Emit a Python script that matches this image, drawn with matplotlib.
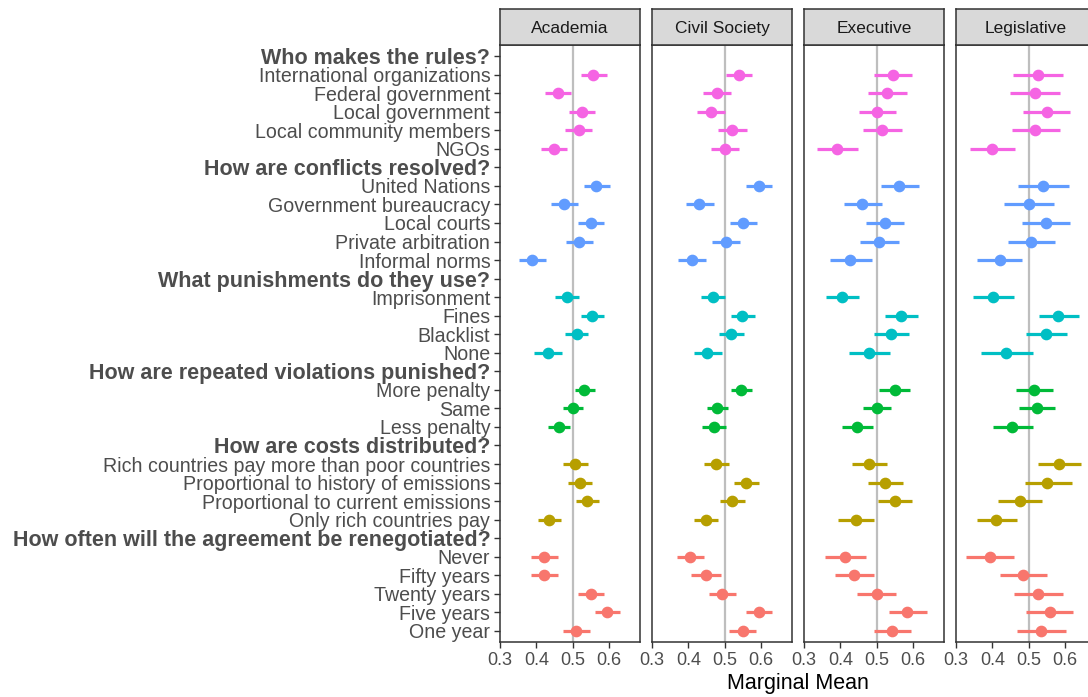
import matplotlib
matplotlib.use("Agg")
import matplotlib.pyplot as plt
import numpy as np

plt.rcParams['font.family'] = ['Liberation Sans', 'DejaVu Sans']

# attribute headers and their levels, top to bottom
headers = [
    "Who makes the rules?",
    "How are conflicts resolved?",
    "What punishments do they use?",
    "How are repeated violations punished?",
    "How are costs distributed?",
    "How often will the agreement be renegotiated?",
]
levels = [
    ["International organizations", "Federal government", "Local government",
     "Local community members", "NGOs"],
    ["United Nations", "Government bureaucracy", "Local courts",
     "Private arbitration", "Informal norms"],
    ["Imprisonment", "Fines", "Blacklist", "None"],
    ["More penalty", "Same", "Less penalty"],
    ["Rich countries pay more than poor countries", "Proportional to history of emissions",
     "Proportional to current emissions", "Only rich countries pay"],
    ["Never", "Fifty years", "Twenty years", "Five years", "One year"],
]
colors = ["#F564E3", "#619CFF", "#00BFC4", "#00BA38", "#B79F00", "#F8766D"]

sectors = ["Academia", "Civil Society", "Executive", "Legislative"]

# marginal means with 95% intervals, one value per level in the order above
academia_est = [0.557, 0.459, 0.525, 0.517, 0.448,
                0.566, 0.477, 0.550, 0.518, 0.389,
                0.484, 0.555, 0.511, 0.431,
                0.532, 0.500, 0.462,
                0.507, 0.520, 0.541, 0.436,
                0.421, 0.421, 0.550, 0.596, 0.510]
academia_lo = [0.522, 0.424, 0.490, 0.480, 0.412,
               0.531, 0.440, 0.514, 0.482, 0.352,
               0.453, 0.523, 0.480, 0.394,
               0.507, 0.473, 0.432,
               0.475, 0.487, 0.509, 0.404,
               0.386, 0.386, 0.515, 0.561, 0.474]
academia_hi = [0.595, 0.495, 0.563, 0.555, 0.485,
               0.603, 0.516, 0.588, 0.556, 0.427,
               0.517, 0.588, 0.544, 0.470,
               0.562, 0.530, 0.494,
               0.544, 0.554, 0.574, 0.469,
               0.459, 0.459, 0.588, 0.632, 0.549]

civil_est = [0.539, 0.478, 0.462, 0.521, 0.500,
             0.594, 0.429, 0.551, 0.503, 0.409,
             0.468, 0.549, 0.518, 0.453,
             0.545, 0.480, 0.471,
             0.476, 0.560, 0.521, 0.449,
             0.405, 0.449, 0.494, 0.595, 0.550]
civil_lo = [0.503, 0.441, 0.425, 0.483, 0.462,
            0.559, 0.394, 0.515, 0.465, 0.372,
            0.435, 0.517, 0.485, 0.416,
            0.517, 0.451, 0.438,
            0.442, 0.526, 0.487, 0.416,
            0.368, 0.408, 0.457, 0.559, 0.512]
civil_hi = [0.577, 0.517, 0.500, 0.561, 0.539,
            0.632, 0.471, 0.590, 0.543, 0.450,
            0.501, 0.583, 0.553, 0.493,
            0.575, 0.509, 0.504,
            0.512, 0.596, 0.556, 0.483,
            0.443, 0.489, 0.532, 0.632, 0.587]

executive_est = [0.545, 0.528, 0.501, 0.516, 0.392,
                 0.563, 0.461, 0.523, 0.507, 0.428,
                 0.406, 0.568, 0.539, 0.479,
                 0.550, 0.500, 0.447,
                 0.480, 0.524, 0.550, 0.443,
                 0.413, 0.437, 0.500, 0.584, 0.542]
executive_lo = [0.493, 0.476, 0.451, 0.463, 0.336,
                0.513, 0.409, 0.471, 0.454, 0.372,
                0.361, 0.524, 0.493, 0.424,
                0.506, 0.462, 0.405,
                0.432, 0.476, 0.504, 0.394,
                0.358, 0.385, 0.447, 0.535, 0.493]
executive_hi = [0.598, 0.584, 0.553, 0.569, 0.449,
                0.617, 0.515, 0.577, 0.563, 0.487,
                0.451, 0.614, 0.589, 0.537,
                0.592, 0.541, 0.491,
                0.530, 0.572, 0.598, 0.492,
                0.471, 0.492, 0.554, 0.638, 0.594]

legislative_est = [0.525, 0.517, 0.550, 0.519, 0.400,
                   0.539, 0.500, 0.547, 0.506, 0.420,
                   0.403, 0.582, 0.547, 0.438,
                   0.515, 0.522, 0.455,
                   0.584, 0.552, 0.476, 0.411,
                   0.394, 0.484, 0.527, 0.558, 0.533]
legislative_lo = [0.456, 0.450, 0.485, 0.454, 0.339,
                  0.471, 0.432, 0.482, 0.442, 0.358,
                  0.347, 0.528, 0.492, 0.368,
                  0.465, 0.473, 0.401,
                  0.527, 0.489, 0.417, 0.357,
                  0.328, 0.420, 0.460, 0.494, 0.467]
legislative_hi = [0.595, 0.587, 0.615, 0.586, 0.464,
                  0.611, 0.571, 0.615, 0.573, 0.483,
                  0.461, 0.639, 0.605, 0.511,
                  0.567, 0.572, 0.513,
                  0.645, 0.619, 0.536, 0.468,
                  0.461, 0.552, 0.595, 0.623, 0.603]

panel_data = [
    (academia_est, academia_lo, academia_hi),
    (civil_est, civil_lo, civil_hi),
    (executive_est, executive_lo, executive_hi),
    (legislative_est, legislative_lo, legislative_hi),
]

# build the y rows: header rows carry no estimate
row_labels = []
row_bold = []
row_colors = []
for h, lv, c in zip(headers, levels, colors):
    row_labels.append(h)
    row_bold.append(True)
    row_colors.append(None)
    for name in lv:
        row_labels.append(name)
        row_bold.append(False)
        row_colors.append(c)
n_rows = len(row_labels)
ypos = np.arange(n_rows, 0, -1)  # top row gets the largest value
data_rows = [i for i, b in enumerate(row_bold) if not b]

W, H = 1088, 697
fig = plt.figure(figsize=(W / 100, H / 100), dpi=100)

dark = "#333333"
grey_txt = "#4D4D4D"
panel_left0, panel_w, gap = 500, 140, 12
panel_top, panel_bot = 45, 642
strip_top = 9

for k, (sector, (est, lo, hi)) in enumerate(zip(sectors, panel_data)):
    x0 = panel_left0 + k * (panel_w + gap)
    ax = fig.add_axes([x0 / W, (H - panel_bot) / H, panel_w / W, (panel_bot - panel_top) / H])
    ax.axvline(0.5, color="#BEBEBE", lw=1.6, zorder=1)
    for j, r in enumerate(data_rows):
        y = ypos[r]
        c = row_colors[r]
        ax.plot([lo[j], hi[j]], [y, y], color=c, lw=2.3, solid_capstyle="butt", zorder=2)
        ax.plot(est[j], y, "o", color=c, ms=7.4, mec=c, zorder=3)
    ax.set_xlim(0.30, 0.686)
    ax.set_ylim(0.4, n_rows + 0.6)
    ax.set_xticks([0.3, 0.4, 0.5, 0.6])
    ax.set_xticklabels(["0.3", "0.4", "0.5", "0.6"])
    ax.set_yticks(ypos)
    for s in ax.spines.values():
        s.set_color(dark)
        s.set_linewidth(1.1)
    ax.tick_params(axis="x", length=4, width=1.0, color=dark, labelcolor=grey_txt,
                   labelsize=13, pad=3)
    if k == 0:
        ax.set_yticklabels(row_labels)
        ax.tick_params(axis="y", length=4, width=1.0, color=dark, labelcolor=grey_txt,
                       labelsize=14.1, pad=3)
        for lab, b in zip(ax.get_yticklabels(), row_bold):
            if b:
                lab.set_fontweight("bold")
                lab.set_fontsize(15.5)
    else:
        ax.tick_params(axis="y", length=0, labelleft=False)

    # facet strip
    sax = fig.add_axes([x0 / W, (H - panel_top) / H, panel_w / W, (panel_top - strip_top) / H])
    sax.set_facecolor("#D9D9D9")
    sax.set_xticks([])
    sax.set_yticks([])
    for s in sax.spines.values():
        s.set_color(dark)
        s.set_linewidth(1.1)
    sax.text(0.5, 0.47, sector, ha="center", va="center", fontsize=12.5,
             color="#1A1A1A", transform=sax.transAxes)

fig.text((panel_left0 + (4 * panel_w + 3 * gap) / 2) / W, 1 - 684 / H, "Marginal Mean",
         ha="center", va="center", fontsize=15.5, color="black")

fig.savefig("out.png", dpi=100)
